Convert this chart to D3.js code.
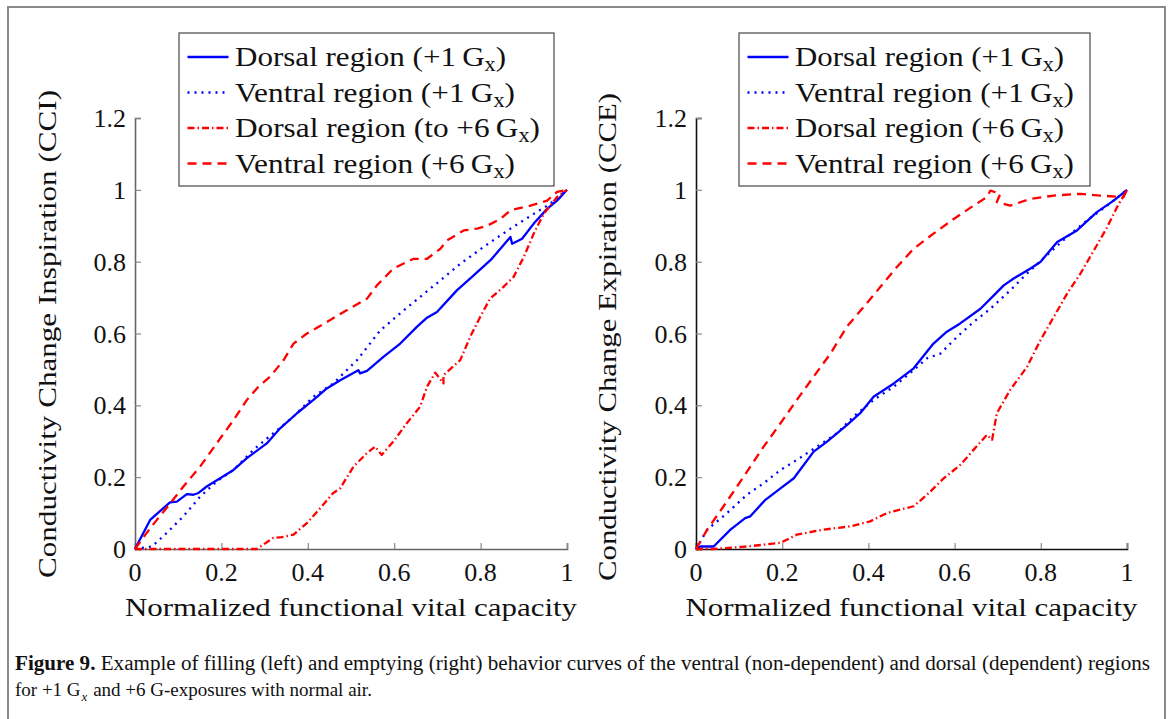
<!DOCTYPE html>
<html>
<head>
<meta charset="utf-8">
<script src="https://cdn.jsdelivr.net/npm/d3@7"></script>
<style>
  body { margin: 0; background: #fff; }
  svg { display: block; }
  text { font-family: "Liberation Serif", "DejaVu Serif", serif; fill: #111; }
</style>
</head>
<body>
<svg id="chart" width="1171" height="719"></svg>
<script>
// ---- data ----
var xTicks = [0, 0.2, 0.4, 0.6, 0.8, 1];
var yTicks = [0, 0.2, 0.4, 0.6, 0.8, 1, 1.2];

// filling (left)
var inspDorsal1 = [[0,0],[0.035,0.081],[0.081,0.13],[0.097,0.132],[0.12,0.153],[0.135,0.151],[0.147,0.156],
  [0.166,0.174],[0.197,0.197],[0.228,0.22],[0.259,0.253],[0.305,0.294],[0.336,0.336],[0.375,0.378],
  [0.413,0.415],[0.444,0.447],[0.475,0.47],[0.517,0.498],[0.521,0.489],[0.537,0.496],[0.575,0.535],
  [0.614,0.572],[0.653,0.619],[0.676,0.644],[0.699,0.66],[0.745,0.72],[0.784,0.762],[0.826,0.808],
  [0.869,0.869],[0.873,0.85],[0.896,0.864],[0.923,0.906],[0.954,0.947],[0.977,0.97],[1,1]];
var inspVentral1 = [[0,0],[0.039,0.007],[0.073,0.044],[0.112,0.091],[0.151,0.146],[0.189,0.188],[0.228,0.22],
  [0.274,0.276],[0.32,0.322],[0.367,0.369],[0.413,0.424],[0.459,0.461],[0.514,0.526],[0.568,0.609],
  [0.614,0.656],[0.66,0.702],[0.707,0.748],[0.753,0.794],[0.807,0.841],[0.869,0.892],[0.923,0.933],
  [0.961,0.961],[1,1]];
var inspDorsal6 = [[0,0],[0.073,0],[0.282,0],[0.32,0.031],[0.34,0.033],[0.367,0.04],[0.398,0.072],
  [0.429,0.114],[0.459,0.156],[0.475,0.169],[0.506,0.23],[0.537,0.267],[0.556,0.285],[0.571,0.262],
  [0.598,0.299],[0.629,0.35],[0.66,0.396],[0.676,0.452],[0.695,0.491],[0.714,0.461],[0.714,0.484],
  [0.753,0.526],[0.776,0.591],[0.799,0.646],[0.822,0.697],[0.853,0.73],[0.876,0.757],[0.9,0.813],
  [0.923,0.878],[0.946,0.933],[0.977,0.98],[1,1]];
var inspVentral6 = [[0,0],[0.035,0.058],[0.073,0.114],[0.112,0.174],[0.151,0.23],[0.189,0.294],[0.228,0.359],
  [0.259,0.415],[0.286,0.452],[0.313,0.48],[0.344,0.526],[0.367,0.572],[0.398,0.6],[0.444,0.632],
  [0.49,0.665],[0.537,0.697],[0.56,0.734],[0.598,0.781],[0.645,0.808],[0.676,0.808],[0.707,0.836],
  [0.722,0.859],[0.761,0.887],[0.792,0.892],[0.815,0.9],[0.846,0.919],[0.869,0.943],[0.915,0.956],
  [0.954,0.97],[0.977,0.994],[1,1]];

// emptying (right)
var expDorsal1 = [[0,0],[0.01,0.007],[0.041,0.007],[0.08,0.054],[0.114,0.086],[0.126,0.091],[0.161,0.137],
  [0.196,0.169],[0.227,0.197],[0.273,0.271],[0.304,0.299],[0.35,0.345],[0.381,0.378],[0.412,0.424],
  [0.459,0.461],[0.505,0.503],[0.551,0.572],[0.582,0.605],[0.613,0.628],[0.66,0.669],[0.691,0.706],
  [0.714,0.734],[0.737,0.753],[0.776,0.781],[0.799,0.799],[0.838,0.855],[0.884,0.887],[0.93,0.938],
  [0.969,0.97],[1,1]];
var expVentral1 = [[0,0],[0.026,0.054],[0.072,0.1],[0.118,0.151],[0.157,0.183],[0.196,0.22],[0.234,0.248],
  [0.281,0.285],[0.327,0.322],[0.366,0.369],[0.412,0.415],[0.459,0.452],[0.505,0.498],[0.536,0.531],
  [0.567,0.544],[0.606,0.591],[0.644,0.632],[0.683,0.669],[0.729,0.72],[0.768,0.767],[0.814,0.818],
  [0.861,0.869],[0.907,0.915],[0.954,0.956],[1,1]];
var expDorsal6 = [[0,0],[0.041,0],[0.118,0.007],[0.196,0.017],[0.234,0.04],[0.296,0.054],[0.358,0.063],
  [0.404,0.077],[0.443,0.1],[0.505,0.119],[0.536,0.151],[0.575,0.197],[0.613,0.234],[0.644,0.276],
  [0.675,0.318],[0.687,0.304],[0.698,0.378],[0.729,0.443],[0.768,0.507],[0.799,0.581],[0.83,0.646],
  [0.861,0.711],[0.892,0.767],[0.923,0.831],[0.954,0.896],[0.977,0.952],[1,1]];
var expVentral6 = [[0,0],[0.026,0.054],[0.064,0.119],[0.111,0.202],[0.157,0.285],[0.196,0.35],[0.234,0.415],
  [0.273,0.48],[0.312,0.544],[0.35,0.619],[0.389,0.674],[0.428,0.73],[0.466,0.785],[0.505,0.836],
  [0.551,0.878],[0.598,0.919],[0.644,0.956],[0.675,0.98],[0.683,0.998],[0.706,0.989],[0.698,0.966],
  [0.729,0.956],[0.776,0.975],[0.83,0.984],[0.892,0.989],[0.938,0.984],[0.992,0.98],[1,1]];

var leftLegend = ["Dorsal region (+1\u2009G|x|)", "Ventral region (+1\u2009G|x|)",
                  "Dorsal region (to +6\u2009G|x|)", "Ventral region (+6\u2009G|x|)"];
var rightLegend = ["Dorsal region (+1\u2009G|x|)", "Ventral region (+1\u2009G|x|)",
                   "Dorsal region (+6\u2009G|x|)", "Ventral region (+6\u2009G|x|)"];

var styles = [
  {color: "#0000ff", dash: null},
  {color: "#0000ff", dash: "2,5"},
  {color: "#ff0000", dash: "7,3,1.5,3"},
  {color: "#ff0000", dash: "9,6"}
];

var svg = d3.select("#chart");

// outer frame
svg.append("rect").attr("x", 8).attr("y", 7).attr("width", 1157).attr("height", 720)
  .attr("fill", "none").attr("stroke", "#8a8a8a").attr("stroke-width", 2);

function drawPanel(opt) {
  var x = d3.scaleLinear().domain([0, 1]).range([opt.x0, opt.x1]);
  var y = d3.scaleLinear().domain([0, 1.2]).range([549, 118]);
  var g = svg.append("g");

  // axes (ticks point inward)
  var xAxis = g.append("g").attr("transform", "translate(0,549)")
    .call(d3.axisTop(x).tickValues(xTicks).tickSize(6).tickFormat(""));
  var yAxis = g.append("g").attr("transform", "translate(" + opt.x0 + ",0)")
    .call(d3.axisRight(y).tickValues(yTicks).tickSize(6).tickFormat(""));
  [xAxis, yAxis].forEach(function(a) {
    a.select(".domain").attr("stroke", opt.axisColor).attr("stroke-width", 1.6);
    a.selectAll(".tick line").attr("stroke", "#888").attr("stroke-width", 1.2);
  });

  g.selectAll(".xl").data(xTicks).enter().append("text")
    .attr("x", function(d) { return x(d); }).attr("y", 581)
    .attr("text-anchor", "middle").attr("font-size", 26)
    .text(function(d) { return d; });
  g.selectAll(".yl").data(yTicks).enter().append("text")
    .attr("x", opt.x0 - 9).attr("y", function(d) { return y(d) + 9; })
    .attr("text-anchor", "end").attr("font-size", 26)
    .text(function(d) { return d; });

  g.append("text")
    .attr("x", (opt.x0 + opt.x1) / 2).attr("y", 616)
    .attr("text-anchor", "middle").attr("font-size", 26)
    .attr("textLength", 452).attr("lengthAdjust", "spacingAndGlyphs")
    .text("Normalized functional vital capacity");
  g.append("text")
    .attr("transform", "translate(" + (opt.yLabelX) + "," + opt.yLabelY + ") rotate(-90)")
    .attr("text-anchor", "middle").attr("font-size", 26)
    .attr("textLength", 488).attr("lengthAdjust", "spacingAndGlyphs")
    .text(opt.yLabel);

  var line = d3.line().x(function(d) { return x(d[0]); }).y(function(d) { return y(d[1]); });
  opt.series.forEach(function(s, i) {
    g.append("path").datum(s).attr("d", line)
      .attr("fill", "none").attr("stroke", styles[i].color)
      .attr("stroke-width", 2.3).attr("stroke-linejoin", "round")
      .attr("stroke-dasharray", styles[i].dash);
  });

  // legend
  var lg = g.append("g").attr("transform", "translate(" + opt.legX + ",33)");
  lg.append("rect").attr("width", opt.legW).attr("height", 153)
    .attr("fill", "#fff").attr("stroke", "#555").attr("stroke-width", 1.3);
  opt.legend.forEach(function(lab, i) {
    var yy = 24 + i * 35.5;
    lg.append("line").attr("x1", 8.5).attr("x2", 49.5).attr("y1", yy).attr("y2", yy)
      .attr("stroke", styles[i].color).attr("stroke-width", 2.3)
      .attr("stroke-dasharray", styles[i].dash);
    var parts = lab.split("|");
    var t = lg.append("text").attr("x", 56).attr("y", yy + 9).attr("font-size", 28)
      .attr("textLength", opt.legTextW[i]).attr("lengthAdjust", "spacingAndGlyphs");
    t.append("tspan").text(parts[0]);
    t.append("tspan").attr("font-size", 20).attr("dy", 5).text(parts[1]);
    t.append("tspan").attr("dy", -5).text(parts[2]);
  });
}

drawPanel({
  x0: 135, x1: 567, axisColor: "#666",
  yLabel: "Conductivity Change Inspiration (CCI)", yLabelX: 56, yLabelY: 334,
  series: [inspDorsal1, inspVentral1, inspDorsal6, inspVentral6],
  legend: leftLegend, legX: 179, legW: 375, legTextW: [271, 280, 305, 280]
});
drawPanel({
  x0: 696, x1: 1127, axisColor: "#111",
  yLabel: "Conductivity Change Expiration (CCE)", yLabelX: 616, yLabelY: 337,
  series: [expDorsal1, expVentral1, expDorsal6, expVentral6],
  legend: rightLegend, legX: 739, legW: 351, legTextW: [269, 279, 269, 279]
});

// caption
var cap = svg.append("g").attr("font-size", 20);
var c1 = cap.append("text").attr("x", 15).attr("y", 670).attr("textLength", 1135).attr("lengthAdjust", "spacingAndGlyphs");
c1.append("tspan").attr("font-weight", "bold").text("Figure 9.");
c1.append("tspan").text(" Example of filling (left) and emptying (right) behavior curves of the ventral (non-dependent) and dorsal (dependent) regions");
var c2 = cap.append("text").attr("x", 15).attr("y", 696).attr("font-size", 19);
c2.append("tspan").text("for +1 G");
c2.append("tspan").attr("font-style", "italic").attr("font-size", 13).attr("dx", 1).attr("dy", 5).text("x");
c2.append("tspan").attr("dx", 1).attr("dy", -5).text(" and +6 G-exposures with normal air.");
</script>
</body>
</html>
